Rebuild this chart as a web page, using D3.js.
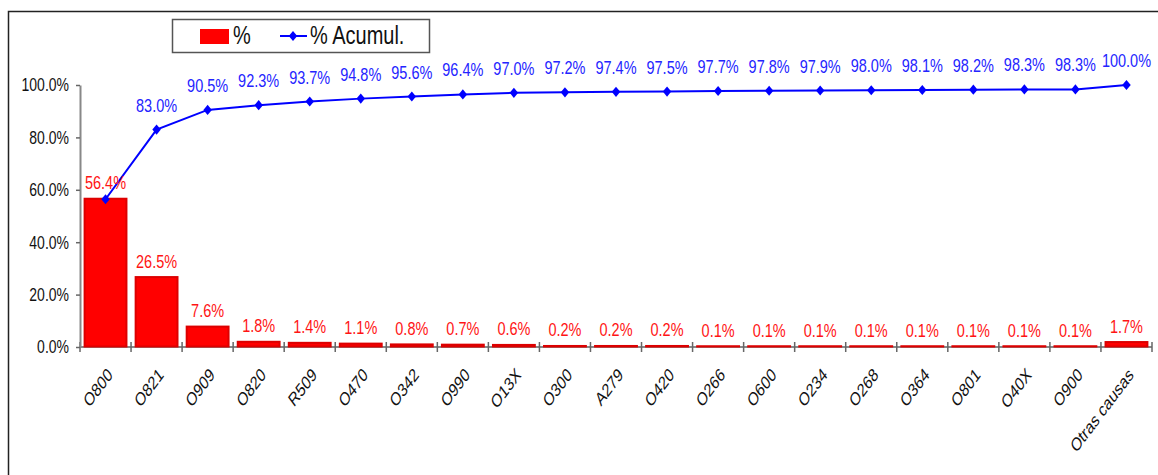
<!DOCTYPE html>
<html>
<head>
<meta charset="utf-8">
<script src="https://cdn.jsdelivr.net/npm/d3@7"></script>
<style>
  body { margin: 0; background: #fff; }
  svg { display: block; font-family: "Liberation Sans", Arial, sans-serif; }
</style>
</head>
<body>
<svg id="chart"></svg>
<script>
// Pareto data
const categories = ["O800", "O821", "O909", "O820", "R509", "O470", "O342", "O990", "O13X", "O300",
  "A279", "O420", "O266", "O600", "O234", "O268", "O364", "O801", "O40X", "O900", "Otras causas"];
const pct = [56.4, 26.5, 7.6, 1.8, 1.4, 1.1, 0.8, 0.7, 0.6, 0.2, 0.2, 0.2, 0.1, 0.1, 0.1, 0.1, 0.1, 0.1, 0.1, 0.1, 1.7];
const cumPct = [56.4, 83.0, 90.5, 92.3, 93.7, 94.8, 95.6, 96.4, 97.0, 97.2, 97.4, 97.5, 97.7, 97.8, 97.9, 98.0, 98.1, 98.2, 98.3, 98.3, 100.0];
const yTicks = [0, 20, 40, 60, 80, 100];
const legendLabels = ["%", "% Acumul."];

const width = 1158,
    height = 475;
const stretch = 1.33; // text in the original is stretched vertically

const margin = {
    top: 85,
    right: 6,
    bottom: 128,
    left: 80
};

const svg = d3.select("#chart")
    .attr("width", width)
    .attr("height", height);

// outer chart frame (runs off the right and bottom edges)
svg.append("rect")
    .attr("x", 8.5)
    .attr("y", 11.5)
    .attr("width", 1300)
    .attr("height", 600)
    .attr("fill", "none")
    .attr("stroke", "#222")
    .attr("stroke-width", 1.5);

const x = d3
    .scaleBand()
    .domain(categories)
    .range([margin.left, width - margin.right])
    .paddingInner(0.18)
    .paddingOuter(0.09);

const y = d3
    .scaleLinear()
    .domain([0, 100])
    .range([height - margin.bottom, margin.top]);

const fmt = d => d.toFixed(1) + "%";

// x axis line + boundary ticks (drawn under the bars)
const x0 = x.range()[0], x1 = x.range()[1];
const boundaries = d3.range(categories.length + 1).map(i => x0 + i * x.step());
const xg = svg.append("g");
xg.append("line")
    .attr("x1", x0).attr("x2", x1)
    .attr("y1", y(0)).attr("y2", y(0))
    .attr("stroke", "#888")
    .attr("stroke-width", 2);
xg.selectAll(".btick")
    .data(boundaries)
    .join("line")
    .attr("class", "btick")
    .attr("x1", d => d).attr("x2", d => d)
    .attr("y1", y(0) - 5).attr("y2", y(0) + 5)
    .attr("stroke", "#666")
    .attr("stroke-width", 1.5);

// bars
svg.append("g")
    .selectAll("rect")
    .data(categories)
    .join("rect")
    .attr("x", d => x(d))
    .attr("width", x.bandwidth())
    .attr("y", (d, i) => y(pct[i]) - 0.5)
    .attr("height", (d, i) => y(0) - y(pct[i]))
    .attr("fill", "#ff0000")
    .attr("stroke", "#dd0000")
    .attr("stroke-width", 2);

// y axis
const yAxis = svg.append("g")
    .attr("transform", `translate(${margin.left},0)`)
    .call(d3.axisLeft(y).tickValues(yTicks).tickSize(4).tickSizeOuter(0).tickFormat(fmt));
yAxis.select(".domain").attr("stroke", "#888").attr("stroke-width", 2);
yAxis.selectAll(".tick line").attr("stroke", "#666").attr("stroke-width", 1.5);
yAxis.selectAll(".tick text")
    .attr("x", -11)
    .attr("font-size", 14)
    .attr("fill", "#111")
    .attr("font-family", "Liberation Sans, Arial, sans-serif")
    .attr("transform", `scale(1,${stretch})`);

// category labels, rotated
xg.selectAll(".xlab")
    .data(categories)
    .join("text")
    .attr("class", "xlab")
    .attr("transform", d => `translate(${x(d) + x.bandwidth() / 2 + 8},${y(0) + 29}) scale(1,${stretch}) rotate(-45)`)
    .attr("text-anchor", "end")
    .attr("font-size", 14)
    .attr("fill", "#111")
    .text(d => d);

// cumulative line
const line = d3.line()
    .x((d, i) => x(categories[i]) + x.bandwidth() / 2)
    .y(d => y(d));

svg.append("path")
    .datum(cumPct)
    .attr("d", line)
    .attr("fill", "none")
    .attr("stroke", "#0000ff")
    .attr("stroke-width", 2);

const diamond = d3.symbol(d3.symbolDiamond2, 46);
svg.append("g")
    .selectAll("path")
    .data(cumPct)
    .join("path")
    .attr("d", diamond)
    .attr("transform", (d, i) => `translate(${x(categories[i]) + x.bandwidth() / 2},${y(d)}) scale(1,1.2)`)
    .attr("fill", "#0000ff");

// bar value labels
svg.append("g")
    .selectAll("text")
    .data(pct)
    .join("text")
    .attr("transform", (d, i) => `translate(${x(categories[i]) + x.bandwidth() / 2},${y(d) - 10}) scale(1,${stretch})`)
    .attr("text-anchor", "middle")
    .attr("font-size", 14.5)
    .attr("fill", "#ff1414")
    .text(fmt);

// cumulative value labels (the first one coincides with the bar label)
svg.append("g")
    .selectAll("text")
    .data(cumPct.slice(1))
    .join("text")
    .attr("transform", (d, i) => `translate(${x(categories[i + 1]) + x.bandwidth() / 2},${y(d) - 18}) scale(1,${stretch})`)
    .attr("text-anchor", "middle")
    .attr("font-size", 14.5)
    .attr("fill", "#2424ff")
    .text(fmt);

// legend
const lg = svg.append("g");
lg.append("rect")
    .attr("x", 172.5).attr("y", 19.5)
    .attr("width", 257).attr("height", 33)
    .attr("fill", "#fff")
    .attr("stroke", "#555")
    .attr("stroke-width", 1.5);
lg.append("rect")
    .attr("x", 200).attr("y", 29)
    .attr("width", 29).attr("height", 15)
    .attr("fill", "#ff0000");
lg.append("text")
    .attr("transform", `translate(233,44) scale(1,${stretch})`)
    .attr("font-size", 20)
    .attr("fill", "#111")
    .text(legendLabels[0]);
lg.append("line")
    .attr("x1", 280).attr("x2", 307)
    .attr("y1", 36).attr("y2", 36)
    .attr("stroke", "#0000ff")
    .attr("stroke-width", 2);
lg.append("path")
    .attr("d", diamond)
    .attr("transform", "translate(293,36) scale(1,1.2)")
    .attr("fill", "#0000ff");
lg.append("text")
    .attr("transform", `translate(310,44) scale(1,${stretch})`)
    .attr("font-size", 20)
    .attr("fill", "#111")
    .text(legendLabels[1]);
</script>
</body>
</html>
